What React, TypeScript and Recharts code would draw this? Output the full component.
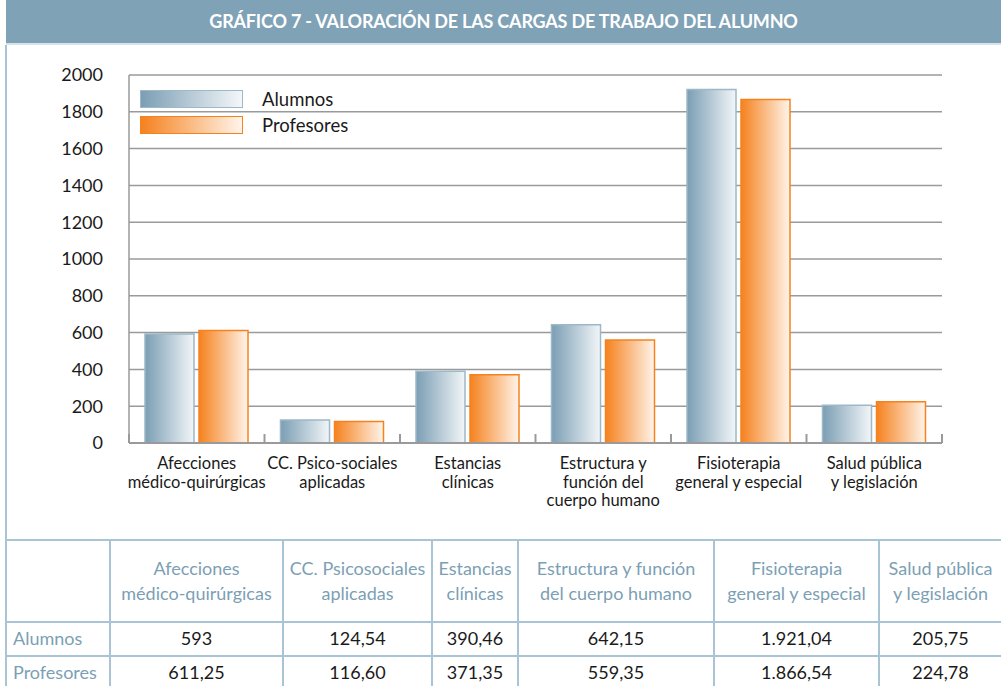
import React from 'react';
import { BarChart, Bar, XAxis, YAxis, CartesianGrid } from 'recharts';

const categories = [
  'Afecciones médico-quirúrgicas',
  'CC. Psico-sociales aplicadas',
  'Estancias clínicas',
  'Estructura y función del cuerpo humano',
  'Fisioterapia general y especial',
  'Salud pública y legislación',
];
const axisLabels = [
  ['Afecciones', 'médico-quirúrgicas'],
  ['CC. Psico-sociales', 'aplicadas'],
  ['Estancias', 'clínicas'],
  ['Estructura y', 'función del', 'cuerpo humano'],
  ['Fisioterapia', 'general y especial'],
  ['Salud pública', 'y legislación'],
];
const tableHeaders = [
  ['Afecciones', 'médico-quirúrgicas'],
  ['CC. Psicosociales', 'aplicadas'],
  ['Estancias', 'clínicas'],
  ['Estructura y función', 'del cuerpo humano'],
  ['Fisioterapia', 'general y especial'],
  ['Salud pública', 'y legislación'],
];
const alumnos = [593, 124.54, 390.46, 642.15, 1921.04, 205.75];
const profesores = [611.25, 116.6, 371.35, 559.35, 1866.54, 224.78];
const yTicks = [0, 200, 400, 600, 800, 1000, 1200, 1400, 1600, 1800, 2000];
const seriesNames = ['Alumnos', 'Profesores'];
const title = 'GRÁFICO 7 - VALORACIÓN DE LAS CARGAS DE TRABAJO DEL ALUMNO';

const data = categories.map((c, i) => ({ name: c, idx: i, alumnos: alumnos[i], profesores: profesores[i] }));

const FONT = 'Lato, "Open Sans", sans-serif';
const BLUE_HEAD = '#7c9fb5';
const BORDER = '#a9c4d4';

function fmt(v: number): string {
  const isInt = Math.abs(v - Math.round(v)) < 1e-9;
  const s = isInt ? String(Math.round(v)) : v.toFixed(2);
  const [ip, dp] = s.split('.');
  const withDots = ip.replace(/\B(?=(\d{3})+(?!\d))/g, '.');
  return dp ? `${withDots},${dp}` : withDots;
}

const XTick = (props: any) => {
  const { x, y, payload, index } = props;
  const half = payload && typeof payload.offset === 'number' && payload.offset > 0 ? payload.offset : 67.75;
  const i0 = payload && typeof payload.index === 'number' ? payload.index : index;
  const lines = axisLabels[i0] || [];
  const isLast = i0 === categories.length - 1;
  return (
    <g>
      <line x1={x - half} x2={x - half} y1={y} y2={y - 9} stroke="#9a9a9a" strokeWidth={2} />
      {isLast && <line x1={x + half} x2={x + half} y1={y} y2={y - 9} stroke="#9a9a9a" strokeWidth={2} />}
      <text x={x} y={y + 26} textAnchor="middle" fill="#1a1a1a" fontSize={16.5} fontFamily={FONT}>
        {lines.map((l, i) => (
          <tspan key={i} x={x} dy={i === 0 ? 0 : 18.5}>{l}</tspan>
        ))}
      </text>
    </g>
  );
};

const LegendBlock = () => (
  <div style={{ position: 'absolute', left: 140, top: 86, fontFamily: FONT }}>
    {seriesNames.map((n, i) => (
      <div key={n} style={{ display: 'flex', alignItems: 'center', height: 26 }}>
        <div
          style={{
            width: 103,
            height: 18,
            boxSizing: 'border-box',
            border: `1px solid ${i === 0 ? '#9db8c8' : '#f5821f'}`,
            background:
              i === 0
                ? 'linear-gradient(to right, #7b9eb4, #f4f7f9)'
                : 'linear-gradient(to right, #f5821f, #fff4ea)',
          }}
        />
        <span style={{ marginLeft: 19, fontSize: 18.5, color: '#1a1a1a' }}>{n}</span>
      </div>
    ))}
  </div>
);

export default function App() {
  return (
    <div style={{ position: 'absolute', left: 0, top: 0, width: 1001, height: 686, background: '#fff', overflow: 'hidden', fontFamily: FONT }}>
      <div
        style={{
          position: 'absolute', left: 6, top: 0, width: 995, height: 43, background: '#7fa2b7',
          borderBottom: '2px solid #d6e3ea', color: '#fff', fontWeight: 700, fontSize: 18,
          textAlign: 'center', lineHeight: '42px', letterSpacing: -0.2,
        }}
      >
        {title}
      </div>
      <div style={{ position: 'absolute', left: 5, top: 45, width: 0, height: 495, borderLeft: `2px solid ${BORDER}` }} />
      <div style={{ position: 'absolute', left: 0, top: 0 }}>
        <BarChart
          width={1001}
          height={540}
          data={data}
          margin={{ top: 75, right: 59, left: 0, bottom: 0 }}
          barSize={49}
          barGap={5}
        >
          <defs>
            <linearGradient id="gBlue" x1="0" y1="0" x2="1" y2="0">
              <stop offset="0%" stopColor="#7b9eb4" />
              <stop offset="100%" stopColor="#f2f6f8" />
            </linearGradient>
            <linearGradient id="gOrange" x1="0" y1="0" x2="1" y2="0">
              <stop offset="0%" stopColor="#f5821f" />
              <stop offset="100%" stopColor="#fff4ea" />
            </linearGradient>
          </defs>
          <CartesianGrid vertical={false} stroke="#9a9a9a" strokeWidth={1.5} />
          <XAxis
            dataKey="name"
            type="category"
            height={97}
            interval={0}
            tickSize={0}
            tickMargin={0}
            tickLine={false}
            axisLine={{ stroke: '#9a9a9a', strokeWidth: 2 }}
            tick={<XTick />}
          />
          <YAxis
            width={129}
            domain={[0, 2000]}
            ticks={yTicks}
            interval={0}
            tickSize={0}
            tickMargin={26}
            tickLine={false}
            axisLine={{ stroke: '#9a9a9a', strokeWidth: 1.5 }}
            tick={{ fill: '#1a1a1a', fontSize: 18, fontFamily: FONT }}
          />
          <Bar dataKey="alumnos" name={seriesNames[0]} fill="url(#gBlue)" stroke="#9db8c8" strokeWidth={1.5} isAnimationActive={false} />
          <Bar dataKey="profesores" name={seriesNames[1]} fill="url(#gOrange)" stroke="#f5821f" strokeWidth={1.5} isAnimationActive={false} />
        </BarChart>
      </div>
      <LegendBlock />
      <table
        style={{
          position: 'absolute', left: 5, top: 539, borderCollapse: 'collapse', tableLayout: 'fixed',
          width: 1010, fontFamily: FONT, fontSize: 18,
        }}
      >
        <colgroup>
          <col style={{ width: 104 }} />
          <col style={{ width: 173 }} />
          <col style={{ width: 149 }} />
          <col style={{ width: 86 }} />
          <col style={{ width: 196 }} />
          <col style={{ width: 165 }} />
          <col style={{ width: 137 }} />
        </colgroup>
        <tbody>
          <tr style={{ height: 82 }}>
            <td style={{ border: `2px solid ${BORDER}` }} />
            {tableHeaders.map((h, i) => (
              <td key={i} style={{ border: `2px solid ${BORDER}`, color: BLUE_HEAD, textAlign: 'center', lineHeight: '25px', padding: i === 5 ? '0 14px 0 0' : 0, whiteSpace: 'nowrap' }}>
                {h[0]}<br />{h[1]}
              </td>
            ))}
          </tr>
          {[alumnos, profesores].map((row, r) => (
            <tr key={r} style={{ height: r === 0 ? 34 : 33 }}>
              <td style={{ border: `2px solid ${BORDER}`, color: BLUE_HEAD, padding: '0 0 2px 6px', lineHeight: '20px' }}>{seriesNames[r]}</td>
              {row.map((v, i) => (
                <td key={i} style={{ border: `2px solid ${BORDER}`, color: '#1a1a1a', textAlign: 'center', padding: i === 5 ? '0 14px 2px 0' : '0 0 2px 0', lineHeight: '20px' }}>
                  {fmt(v)}
                </td>
              ))}
            </tr>
          ))}
        </tbody>
      </table>
    </div>
  );
}
